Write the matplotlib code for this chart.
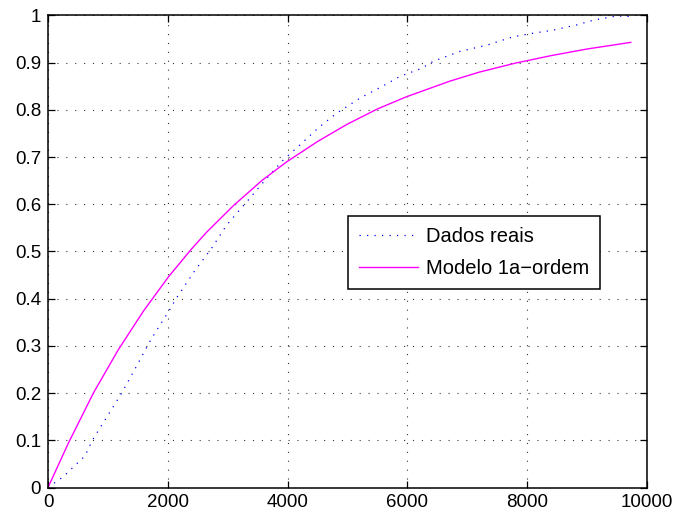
import matplotlib
matplotlib.use("Agg")
import matplotlib.pyplot as plt

t_real = [0, 256, 618, 740, 1230, 1452, 1720, 2048, 2137, 2454, 2732, 2983,
          3205, 3344, 3623, 3928, 4207, 4513, 4819, 5209, 5626, 5876, 6238,
          6433, 6711, 6878, 7324, 7768, 8075, 8436, 8826, 9104, 9494, 9700]
y_real = [0.0, 0.023, 0.067, 0.100, 0.200, 0.251, 0.314, 0.380, 0.400, 0.460,
          0.507, 0.556, 0.589, 0.609, 0.651, 0.694, 0.726, 0.762, 0.793, 0.825,
          0.853, 0.871, 0.888, 0.903, 0.916, 0.924, 0.937, 0.955, 0.962, 0.969,
          0.980, 0.990, 0.999, 0.998]

# first order model curve
t_model = [0, 340, 757, 1174, 1600, 2009, 2400, 2649, 3094, 3567, 3985,
           4500, 5000, 5500, 5988, 6711, 7200, 7800, 8400, 9000, 9728]
y_model = [0.0, 0.094, 0.200, 0.292, 0.375, 0.446, 0.506, 0.541, 0.597, 0.650,
           0.690, 0.733, 0.770, 0.802, 0.828, 0.861, 0.880, 0.899, 0.915,
           0.929, 0.943]

legend_labels = ["Dados reais", "Modelo 1a\u2212ordem"]

plt.rcParams["font.family"] = ["Liberation Sans", "DejaVu Sans"]

fig = plt.figure(figsize=(6.78, 5.16), dpi=100)
ax = fig.add_axes([0.0708, 0.0552, 0.8835, 0.9148])

ax.plot(t_real, y_real, color="blue", linestyle=(0, (1, 5)), linewidth=0.9,
        label=legend_labels[0])
ax.plot(t_model, y_model, color="magenta", linewidth=1.0,
        label=legend_labels[1])

ax.set_xlim(0, 10000)
ax.set_ylim(0, 1)
ax.set_xticks(range(0, 10001, 2000))
ax.set_yticks([i / 10 for i in range(11)])
ax.set_yticklabels(["0", "0.1", "0.2", "0.3", "0.4", "0.5", "0.6", "0.7",
                    "0.8", "0.9", "1"])
ax.grid(True, color="#333333", linestyle=(0, (1, 7)), linewidth=0.8)
ax.tick_params(direction="in", length=5, width=0.9, top=True, right=True,
               labelsize=13.5, pad=5)
for s in ax.spines.values():
    s.set_linewidth(1.1)

leg = ax.legend(loc="upper left", bbox_to_anchor=(0.501, 0.575),
                borderaxespad=0, fontsize=14.5, fancybox=False,
                edgecolor="black", framealpha=1, borderpad=0.55,
                labelspacing=0.65, handlelength=2.9, handletextpad=0.4)
leg.get_frame().set_linewidth(1.1)

plt.savefig("out.png", dpi=100)
